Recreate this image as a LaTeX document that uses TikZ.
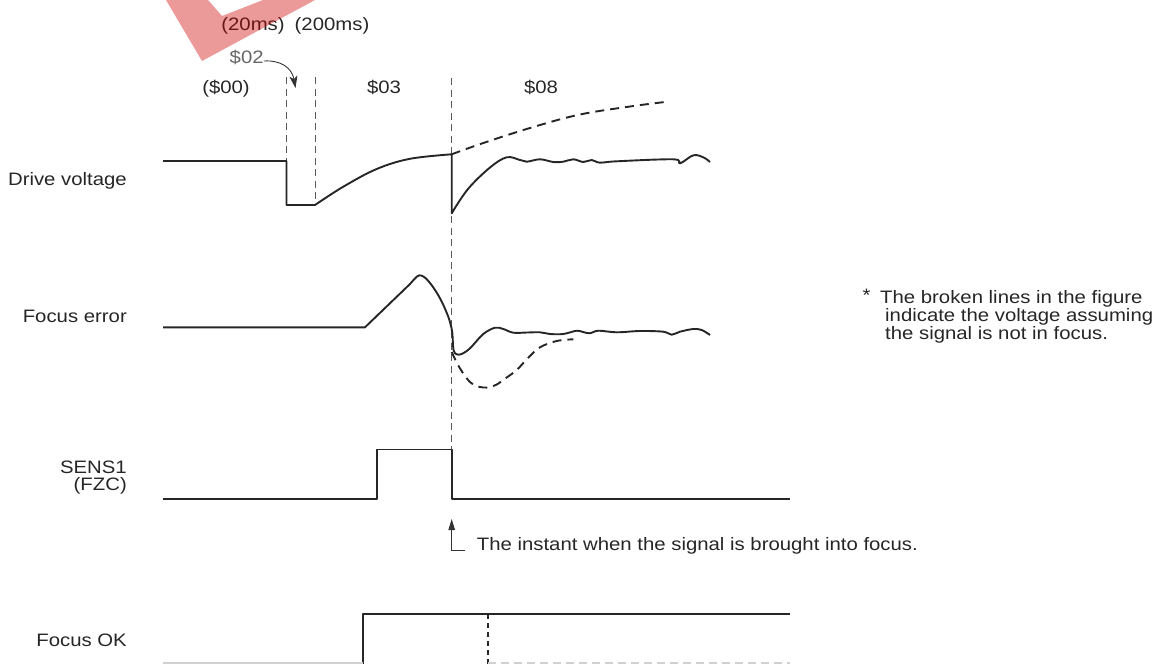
\documentclass[tikz,border=0pt]{standalone}
\usepackage{fontspec}
\setmainfont{Liberation Sans}[FakeStretch=1.13]
\usetikzlibrary{arrows.meta}
\begin{document}
\begin{tikzpicture}[x=1pt,y=-1pt,
  lbl/.style={font=\fontsize{18}{18}\selectfont, text=black!85, inner sep=0pt},
  trace/.style={line width=1.9pt, black!85, line join=round},
  guide/.style={line width=0.8pt, black!65, dash pattern=on 7pt off 4.5pt},
  brk/.style={line width=1.9pt, black!85, dash pattern=on 9pt off 6pt},
  thinline/.style={line width=0.9pt, black!80},
]
\useasboundingbox (0,0) rectangle (1163,664);

% row labels
\node[lbl, anchor=base east] (ldv) at (127,185.7) {Drive voltage};
\node[lbl, anchor=base east] (lfe) at (127,322.7) {Focus error};
\node[lbl, anchor=base east] (lsens) at (127,473.5) {SENS1};
\node[lbl, anchor=base east] (lfzc) at (127,490.5) {(FZC)};
\node[lbl, anchor=base east] (lfok) at (127,646.7) {Focus OK};

% top labels
\node[lbl, anchor=base] (t20) at (253,30) {(20ms)};
\node[lbl, anchor=base] (t200) at (332,30) {(200ms)};
\node[lbl, anchor=base, text=black!60] (l02) at (246.7,63) {\$02};
\node[lbl, anchor=base] (l00) at (226,93) {(\$00)};
\node[lbl, anchor=base] (l03) at (384,93) {\$03};
\node[lbl, anchor=base] (l08) at (541,93) {\$08};

% guide lines
\draw[guide] (286.5,77) -- (286.5,205);
\draw[guide] (315,77) -- (315,205);
\draw[guide] (451.7,78) -- (451.7,449.5);

% arrow from $02
\coordinate (a02) at (295.5,88);
\draw[thinline, -{Stealth[length=12pt,width=8pt,inset=3pt]}] ([yshift=2pt]l02.base east) .. controls (281,60) and (292,68) .. (a02);

% Drive voltage
\draw[trace] (163,161) -- (286.5,161) -- (286.5,205) -- (315,205)
  -- plot[smooth, tension=0.6] coordinates {(315,205) (343.3,186.7) (376.7,169) (410,158.8) (451.7,154.3)}
  -- (451.7,213.3)
  -- plot[smooth, tension=0.6] coordinates {(451.7,213.3) (468,189) (490,167.5) (506.7,157.3) (520,160) (526.7,161.7) (540,159.3) (553.3,162) (563.3,161.7) (573.3,159.3) (583.3,162) (591.7,160) (600,162.7) (616.7,161.3) (673.3,159.3) (680,163.3) (693.3,155.3) (703.3,157.3) (710,162)};
\draw[brk] plot[smooth, tension=0.6] coordinates {(451.7,154.3) (483.3,143) (533.3,127) (580,114.5) (630,106.5) (665,102)};

% Focus error
\draw[trace] (163,327.3) -- (365,327.3)
  -- plot[smooth, tension=0.55] coordinates {(410,284) (417,276.5) (421,275.5) (426,278.5) (433,287) (440,298.3) (446,311) (450,322) (452.3,333) (453.5,350) (456.7,354.3) (461.7,354) (470,348.3) (483.3,334) (495,327.7) (503.3,329) (513.3,332.7) (527,332.5) (540,332.3) (550,334) (563.3,334) (576.7,330.7) (583,332) (590,333.3) (598.3,330.7) (616.7,332.3) (640,331) (663.3,331.7) (671.7,334.7) (680,331.7) (693.3,329) (701.7,330) (710,335)};
\draw[brk] plot[smooth, tension=0.6] coordinates {(451.7,352) (458,365) (466.7,378.3) (474,385) (483.3,387.5) (490,387) (496.7,384.5) (506,378) (516.7,370) (528,358) (540,347.3) (556.7,341) (573.3,339.3)};

% SENS1
\draw[trace] (163,499) -- (377,499) -- (377,449.5) -- (451.7,449.5) -- (451.7,499) -- (790,499);

% focus instant arrow
\coordinate (atip) at (451.7,519);
\coordinate (acorner) at (451.7,550);
\coordinate (aend) at (465,550);
\draw[thinline, -{Triangle[length=11pt,width=6.5pt]}] (aend) -- (acorner) -- (atip);
\node[lbl, anchor=base west] (tinst) at (476.7,550) {The instant when the signal is brought into focus.};

% footnote
\node[lbl, anchor=base] (star) at (866.5,301) {*};
\node[lbl, anchor=base west] (fn1) at (880,303.3) {The broken lines in the figure};
\node[lbl, anchor=base west] (fn2) at (885,321.7) {indicate the voltage assuming};
\node[lbl, anchor=base west] (fn3) at (885,339.3) {the signal is not in focus.};

% Focus OK
\draw[trace] (363.3,664) -- (363.3,614.3) -- (790,614.3);
\draw[line width=1.6pt, black!85, dash pattern=on 5pt off 4pt] (487.7,614.3) -- (487.7,664);
\draw[line width=1.3pt, black!18] (163,663) -- (363.3,663);
\draw[line width=1.3pt, black!18, dash pattern=on 8pt off 5pt] (487.7,663) -- (790,663);

% watermark
\fill[red!80!black, fill opacity=0.4] (166,0) -- (202,61) -- (315,0) -- (263,0) -- (222,16) -- (208,0) -- cycle;
\end{tikzpicture}
\end{document}
